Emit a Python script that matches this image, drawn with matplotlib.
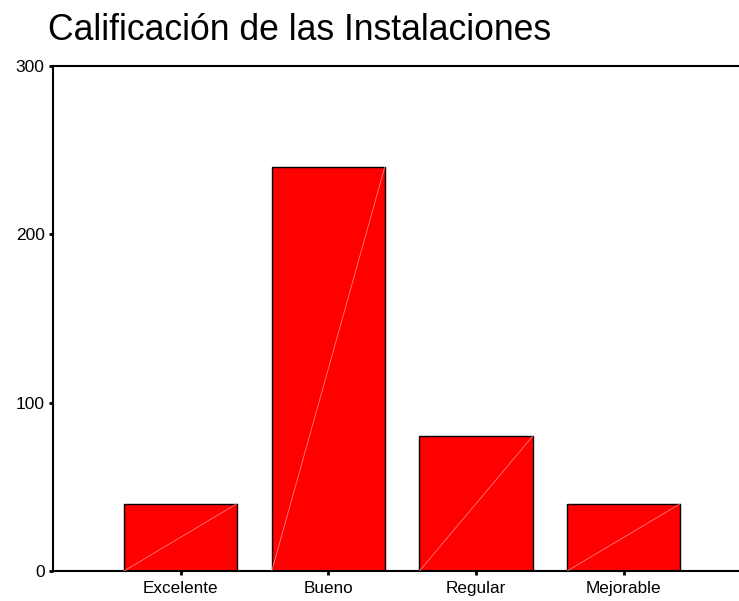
import matplotlib.pyplot as plt

categorias = ["Excelente", "Bueno", "Regular", "Mejorable"]
frecuencias = [40, 240, 80, 40]
y_ticks = [0, 100, 200, 300]

plt.rcParams['font.family'] = ['Liberation Sans', 'DejaVu Sans']

fig = plt.figure(figsize=(7.39, 6.01), dpi=100)
ax = fig.add_axes([53 / 739, 30 / 601, 1 - 53 / 739, 505 / 601])

pos = list(range(len(categorias)))
ancho = 0.765
ax.bar(pos, frecuencias, width=ancho, color="#ff0000", edgecolor="black", linewidth=1.0, zorder=2)

# linea diagonal tenue dentro de cada barra
for x, v in zip(pos, frecuencias):
    ax.plot([x - ancho / 2, x + ancho / 2], [0, v], color="#ff8080", linewidth=0.6, zorder=3)

ax.set_xlim(-0.863, 3.78)
ax.set_ylim(0, 300)
ax.set_xticks(pos)
ax.set_xticklabels(categorias, fontsize=12.3)
ax.set_yticks(y_ticks)
ax.set_yticklabels([str(t) for t in y_ticks], fontsize=12.5)

ax.spines['right'].set_visible(False)
for s in ['left', 'top', 'bottom']:
    ax.spines[s].set_linewidth(1.5)
ax.tick_params(axis='both', length=3, width=2)
ax.tick_params(axis='x', pad=4)
ax.tick_params(axis='y', pad=3)

fig.text(48 / 739, 1 - 31 / 601, "Calificación de las Instalaciones", fontsize=25.6, va='center', ha='left')

fig.savefig("out.png", dpi=100)
